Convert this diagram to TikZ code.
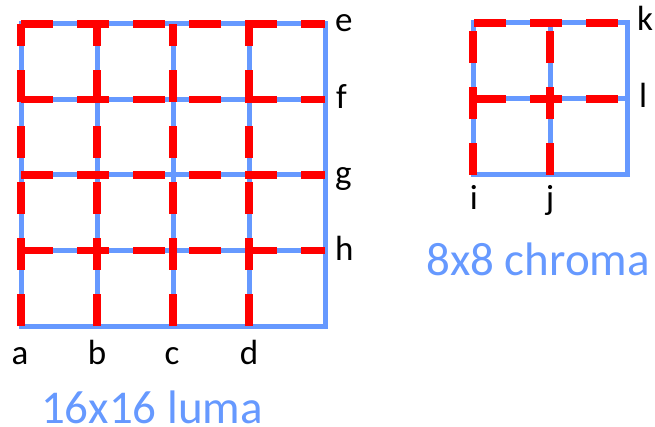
\documentclass[tikz,border=0pt]{standalone}
\usepackage{fontspec}
\setmainfont{Carlito}
\definecolor{gridblue}{HTML}{6699FF}
\definecolor{gridred}{HTML}{FF0000}
\begin{document}
\begin{tikzpicture}[x=1pt,y=-1pt,
  blueline/.style={draw=gridblue,line width=5pt,line cap=rect},
  redline/.style={draw=gridred,line width=7.5pt,dash pattern=on 32pt off 24pt},
  lbl/.style={inner sep=0pt,font=\fontsize{35}{37}\selectfont,anchor=base},
  title/.style={inner sep=0pt,font=\fontsize{47}{50}\selectfont,text=gridblue,anchor=base}]
\useasboundingbox (0,0) rectangle (655,427);
% left grid (blue)
\foreach \x in {21,97,173,249,325} \draw[blueline] (\x,24) -- (\x,326);
\foreach \y in {24,99.5,175,250.5,326} \draw[blueline] (21,\y) -- (325,\y);
% left grid (red)
\foreach \y in {24,99.5,175,250.5} \draw[redline] (21,\y) -- (325,\y);
\foreach \x in {21,97,173,249} \draw[redline] (\x,326) -- (\x,24);
% right grid (blue)
\foreach \x in {473,550,627} \draw[blueline] (\x,23) -- (\x,175);
\foreach \y in {23,99,175} \draw[blueline] (473,\y) -- (627,\y);
% right grid (red)
\foreach \y in {23,99} \draw[redline] (474,\y) -- (627,\y);
\foreach \x in {473,550} \draw[redline] (\x,175) -- (\x,23);
% labels
\node[lbl,anchor=base west] (le) at (335,32) {e};
\node[lbl,anchor=base west] (lf) at (336,109) {f};
\node[lbl,anchor=base west] (lg) at (335,185) {g};
\node[lbl,anchor=base west] (lh) at (335,261) {h};
\node[lbl] (la) at (20,364) {a};
\node[lbl] (lb) at (97,364) {b};
\node[lbl] (lc) at (172,364) {c};
\node[lbl] (ld) at (249,364) {d};
\node[lbl,anchor=base west] (lk) at (637,31) {k};
\node[lbl,anchor=base west] (ll) at (639,108) {l};
\node[lbl] (li) at (474,210) {i};
\node[lbl] (lj) at (550,210) {j};
\node[title] (luma) at (152,423) {16x16 luma};
\node[title] (chroma) at (538,276) {8x8 chroma};
\end{tikzpicture}
\end{document}
